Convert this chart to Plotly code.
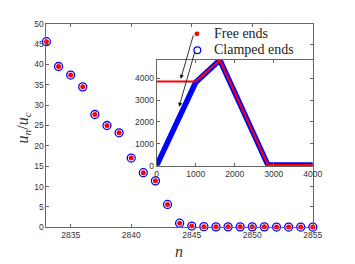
import plotly.graph_objects as go

# Main data: u_n/u_c vs n
n = list(range(2833, 2856))
u_ratio = [45.6, 39.5, 37.4, 34.5, 27.7, 25.0, 23.2, 17.0, 13.4, 11.4, 5.6, 1.0,
           0.3, 0.15, 0.1, 0.1, 0.1, 0.1, 0.1, 0.05, 0.05, 0.05, 0.05]

# Inset data
inset_x_free = [0, 1000, 1620, 2850, 4000]
inset_y_free = [3850, 3850, 4830, 30, 30]
inset_x_clamped = [0, 1000, 1620, 2850, 4000]
inset_y_clamped = [0, 3800, 4830, 30, 30]

main_x_ticks = [2835, 2840, 2845, 2850, 2855]
main_y_ticks = [0, 5, 10, 15, 20, 25, 30, 35, 40, 45, 50]
inset_x_ticks = [0, 1000, 2000, 3000, 4000]
inset_y_ticks = [0, 1000, 2000, 3000, 4000]

legend_labels = ["Free ends", "Clamped ends"]

W, H = 355, 264
def px(x):
    return x / W
def py(y):
    return (H - y) / H

fig = go.Figure()

fig.add_trace(go.Scatter(
    x=n, y=u_ratio, mode="markers", name=legend_labels[1], showlegend=False,
    marker=dict(symbol="circle-open", size=8, color="#0000ff", line=dict(width=1.3, color="#0000ff")),
    cliponaxis=False, xaxis="x", yaxis="y"))
fig.add_trace(go.Scatter(
    x=n, y=u_ratio, mode="markers", name=legend_labels[0], showlegend=False,
    marker=dict(symbol="circle", size=5, color="#ff0000"),
    cliponaxis=False, xaxis="x", yaxis="y"))

fig.add_trace(go.Scatter(
    x=inset_x_clamped, y=inset_y_clamped, mode="lines", showlegend=False,
    line=dict(color="#0000ff", width=5.5), xaxis="x2", yaxis="y2"))
fig.add_trace(go.Scatter(
    x=inset_x_free, y=inset_y_free, mode="lines", showlegend=False,
    line=dict(color="#ff0000", width=2), xaxis="x2", yaxis="y2"))

axis_common = dict(showgrid=False, zeroline=False, showline=True, linecolor="#666666",
                   linewidth=1, ticks="inside", ticklen=3, tickcolor="#666666",
                   mirror="ticks", tickfont=dict(family="Liberation Sans, Arial", size=8.5, color="#333333"))

fig.update_layout(
    width=W, height=H,
    margin=dict(l=0, r=0, t=0, b=0),
    paper_bgcolor="white", plot_bgcolor="white",
    showlegend=False,
    xaxis=dict(domain=[px(46), px(321.7)], range=[2833, 2855], tickvals=main_x_ticks,
               anchor="y", **axis_common),
    yaxis=dict(domain=[py(231), py(19.5)], range=[0, 50], tickvals=main_y_ticks,
               anchor="x", **axis_common),
    xaxis2=dict(domain=[px(160), px(321.7)], range=[0, 4000], tickvals=inset_x_ticks,
                anchor="y2", **axis_common),
    yaxis2=dict(domain=[py(167), py(56.7)], range=[0, 4850], tickvals=inset_y_ticks,
                anchor="x2", **axis_common),
)

# Legend (manual)
fig.add_shape(type="circle", xref="paper", yref="paper",
              x0=px(199.2), x1=px(204.2), y0=py(32.5), y1=py(27.5),
              fillcolor="#ff0000", line=dict(width=0))
fig.add_shape(type="circle", xref="paper", yref="paper",
              x0=px(198.7), x1=px(205.7), y0=py(50.5), y1=py(43.5),
              fillcolor="rgba(0,0,0,0)", line=dict(width=1.2, color="#0000ff"))
fig.add_annotation(text=legend_labels[0], xref="paper", yref="paper", x=px(217), y=py(30),
                   xanchor="left", yanchor="middle", showarrow=False,
                   font=dict(family="Liberation Serif, DejaVu Serif", size=14, color="#222222"))
fig.add_annotation(text=legend_labels[1], xref="paper", yref="paper", x=px(217), y=py(46.5),
                   xanchor="left", yanchor="middle", showarrow=False,
                   font=dict(family="Liberation Serif, DejaVu Serif", size=14, color="#222222"))

fig.add_annotation(text="<i>u<sub>n</sub></i>/<i>u<sub>c</sub></i>", xref="paper", yref="paper",
                   x=px(22), y=py(128), xanchor="center", yanchor="middle", textangle=-90, showarrow=False,
                   font=dict(family="Liberation Serif, DejaVu Serif", size=16, color="#333333"))
fig.add_annotation(text="<i>n</i>", xref="paper", yref="paper",
                   x=px(183.5), y=py(256), xanchor="center", yanchor="middle", showarrow=False,
                   font=dict(family="Liberation Serif, DejaVu Serif", size=16, color="#333333"))

fig.add_annotation(text="", xref="x2", yref="y2", x=618, y=3970, ax=13, ay=-45,
                   showarrow=True, arrowhead=2, arrowsize=1, arrowwidth=0.8, arrowcolor="#000000")
fig.add_annotation(text="", xref="x2", yref="y2", x=577, y=2695, ax=16, ay=-56,
                   showarrow=True, arrowhead=2, arrowsize=1, arrowwidth=0.8, arrowcolor="#000000")

fig.write_html(
    "out.html",
    config={"displayModeBar": False},
    post_script=("document.body.style.margin='0';"
                 "document.documentElement.style.overflow='hidden';"
                 "Plotly.relayout('{plot_id}', {width: window.innerWidth, height: window.innerHeight});"),
)
